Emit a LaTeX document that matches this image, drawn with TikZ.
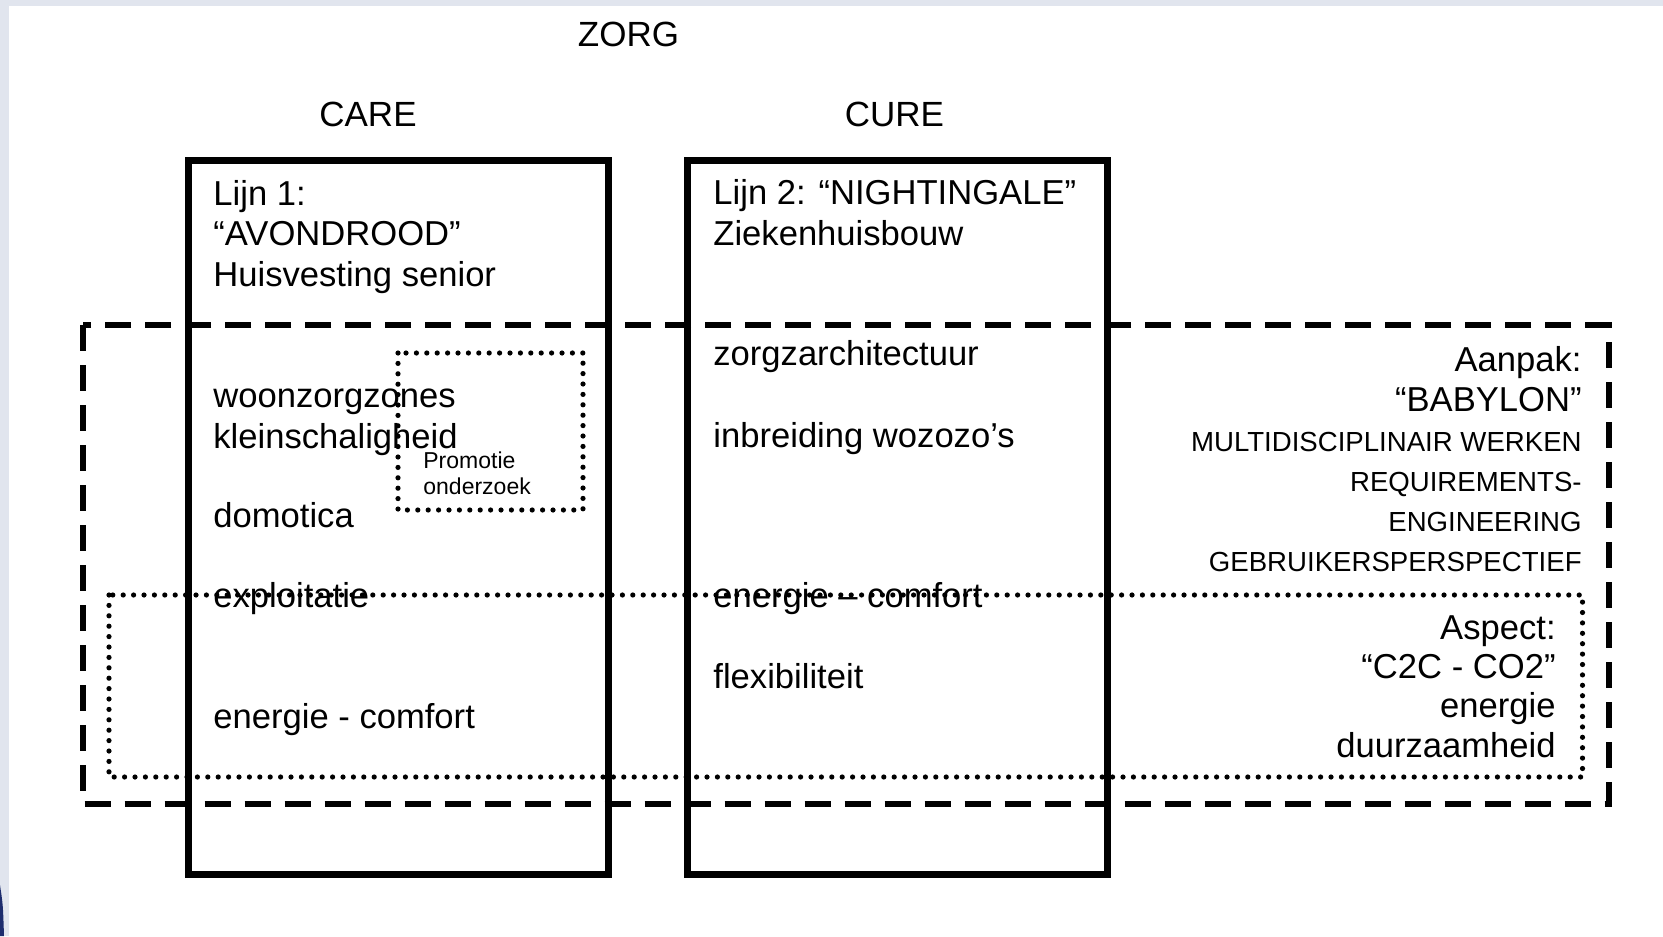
\documentclass[tikz,border=0pt]{standalone}
\usepackage{fontspec}
\setmainfont{Liberation Sans}
\definecolor{rand}{RGB}{225,229,238}
\definecolor{donkerblauw}{RGB}{30,45,110}
\tikzset{%
	lijn/.style       = {line width=3.25pt},
	gestreept/.style  = {line width=3pt, dash pattern=on 13pt off 7pt},
	gestippeld/.style = {line width=2.6pt, dash pattern=on 0pt off 5.2pt, line cap=round},
	kop/.style        = {inner sep=0pt, anchor=base, font=\fontsize{17.5}{21}\selectfont},
	tekst/.style      = {inner sep=0pt, anchor=base west, align=left, font=\fontsize{17.3}{20.4}\selectfont},
	rechts/.style     = {inner sep=0pt, anchor=base east, align=right, font=\fontsize{17.3}{19.6}\selectfont},
	hoofdl/.style     = {inner sep=0pt, anchor=base east, align=right, font=\fontsize{13.8}{20}\selectfont},
	klein/.style      = {inner sep=0pt, anchor=base west, align=left, font=\fontsize{11.5}{13}\selectfont},
}
\begin{document}
\begin{tikzpicture}[x=0.5pt,y=-0.5pt]
	\useasboundingbox (0,0) rectangle (1663,936);
	\fill[white] (0,0) rectangle (1663,936);
	\fill[rand] (0,0) rectangle (1663,6);  % top band
	\fill[rand] (0,0) rectangle (9,936);   % left band
	\fill[donkerblauw] (0,885) .. controls (3,905) .. (4,936) -- (0,936) -- cycle;
	% titles
	\node[kop] (zorg) at (628.5,46.7) {ZORG};
	\node[kop] (care) at (368,126.7) {CARE};
	\node[kop] (cure) at (894.5,126.7) {CURE};
	% the two lines (node base = last line)
	\draw[lijn] (188.5,160.5) rectangle (608.5,874.5);
	\draw[lijn] (687.5,160.5) rectangle (1107.5,874.5);
	\node[tekst] (lijn1) at (213,286.7) {Lijn 1:\\“AVONDROOD”\\Huisvesting senior};
	\node[tekst] (lijn2) at (713,245.5) {Lijn 2: “NIGHTINGALE”\\Ziekenhuisbouw};
	% care
	\node[tekst] (woonzorg) at (213,448) {woonzorgzones\\kleinschaligheid};
	\node[tekst] (domotica) at (213,527) {domotica};
	\node[tekst] (exploitatie) at (213,607) {exploitatie};
	\node[tekst] (energiecare) at (213,728) {energie - comfort};
	% cure
	\node[tekst] (zorgarch) at (713,365) {zorgzarchitectuur};
	\node[tekst] (inbreiding) at (713,447) {inbreiding wozozo’s};
	\node[tekst] (energiecure) at (713,607) {energie – comfort};
	\node[tekst] (flex) at (713,688) {flexibiliteit};
	% aanpak
	\draw[gestreept] (83,325) rectangle (1608.5,803.5);
	\node[rechts] (aanpak) at (1582,411) {Aanpak:\\“BABYLON”};
	\node[hoofdl] (methode) at (1582,571) {MULTIDISCIPLINAIR WERKEN\\REQUIREMENTS-\\ENGINEERING\\GEBRUIKERSPERSPECTIEF};
	% aspect
	\draw[gestippeld] (109,595) rectangle (1582.5,777);
	\node[rechts] (aspect) at (1556,757) {Aspect:\\“C2C - CO2”\\energie\\duurzaamheid};
	% promotie
	\draw[gestippeld] (398,353) rectangle (583,510);
	\node[klein] (promotie) at (423,494) {Promotie\\onderzoek};
\end{tikzpicture}
\end{document}
